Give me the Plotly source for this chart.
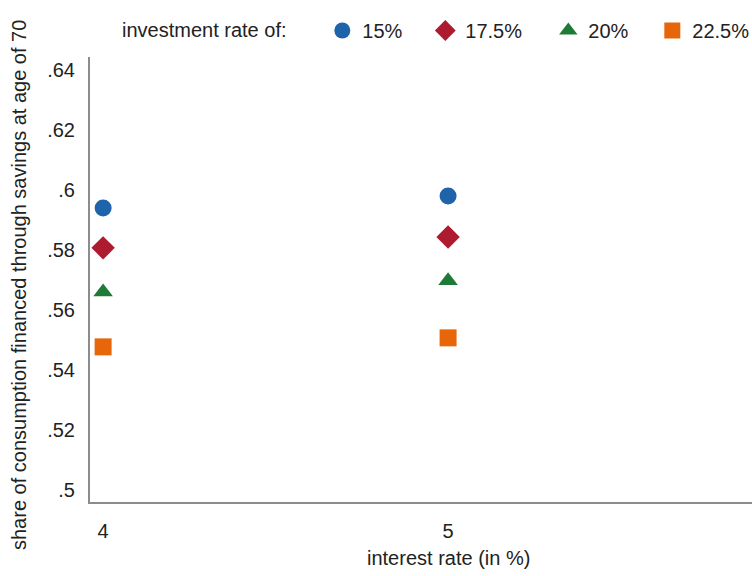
import plotly.graph_objects as go

interest = [4, 5]
series_names = ["15%", "17.5%", "20%", "22.5%"]
share_15 = [0.594, 0.598]
share_175 = [0.5807, 0.5843]
share_20 = [0.566, 0.5697]
share_225 = [0.5477, 0.5507]
y_ticks = [0.5, 0.52, 0.54, 0.56, 0.58, 0.6, 0.62, 0.64]
y_ticktext = [".5", ".52", ".54", ".56", ".58", ".6", ".62", ".64"]

FONT = "Liberation Sans, Arial, sans-serif"
colors = ["#1f63ab", "#ae1a30", "#1d7a37", "#e8660a"]
symbols = ["circle", "diamond", "triangle-up", "square"]
sizes = [17, 18, 17, 17]
legend_widths = [58, 78, 59, 60]

fig = go.Figure()
for name, vals, c, s, sz, lw in zip(series_names, [share_15, share_175, share_20, share_225],
                                    colors, symbols, sizes, legend_widths):
    fig.add_trace(go.Scatter(
        x=interest, y=vals, mode="markers", name=name, legendwidth=lw,
        marker=dict(color=c, symbol=s, size=sz, line=dict(width=0)),
    ))

W, H = 752, 576
ML, MR, MT, MB = 90, 0, 57, 74
PW, PH = W - ML - MR, H - MT - MB

fig.update_layout(
    width=W, height=H,
    margin=dict(l=ML, r=MR, t=MT, b=MB),
    paper_bgcolor="white", plot_bgcolor="white",
    font=dict(family=FONT, size=20, color="#222222"),
    showlegend=True,
    legend=dict(
        orientation="h", xref="container", x=120 / W, xanchor="left",
        yref="container", y=1 - 11 / H, yanchor="top",
        font=dict(size=20),
        title=dict(text="investment rate of:" + "\u00a0" * 5, side="left", font=dict(size=20)),
        itemwidth=30, tracegroupgap=0,
    ),
    xaxis=dict(
        range=[3.962, 5.881], tickvals=interest, ticktext=["4", "5"],
        showgrid=False, zeroline=False, showline=True, linecolor="#8c8c8c", linewidth=2,
        ticks="", ticklabelstandoff=10, tickfont=dict(size=20), automargin=False,
    ),
    yaxis=dict(
        range=[0.4960, 0.6443], tickvals=y_ticks, ticktext=y_ticktext,
        showgrid=False, zeroline=False, showline=True, linecolor="#8c8c8c", linewidth=2,
        ticks="", ticklabelstandoff=9, tickfont=dict(size=20), automargin=False,
    ),
)

fig.add_annotation(text="interest rate (in %)", x=5, xref="x",
                   y=(H - 558 - MB) / PH, yref="paper", yanchor="middle",
                   showarrow=False, font=dict(size=20))
fig.add_annotation(text="share of consumption financed through savings at age of 70",
                   x=(19 - ML) / PW, xref="paper", xanchor="center",
                   y=(H - 285 - MB) / PH, yref="paper", yanchor="middle",
                   textangle=-90, showarrow=False, font=dict(size=20))

fig.write_html("out.html", config={"displayModeBar": False},
               post_script="document.body.style.margin='0';document.body.style.overflow='hidden';")
